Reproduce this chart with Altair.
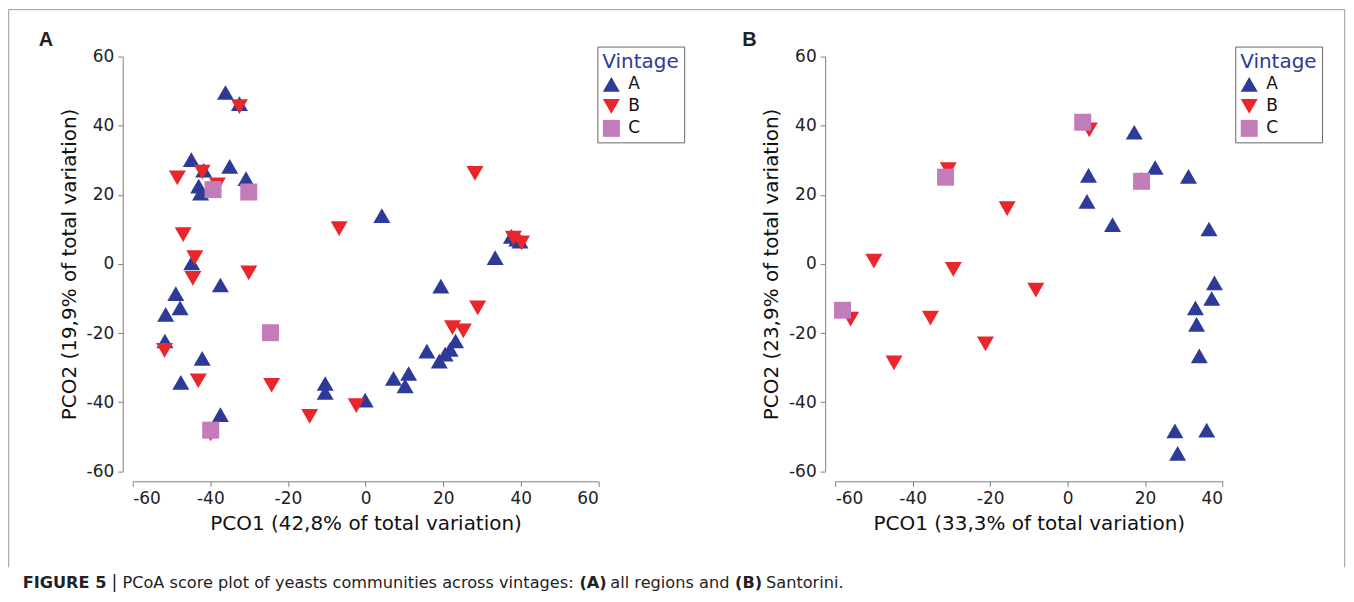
import altair as alt
import pandas as pd

vintages = ["A", "B", "C"]
colors = ["#2e3a97", "#e8262b", "#c27cb9"]
shapes = ["triangle-up", "triangle-down", "square"]
sizes = [290, 290, 170]

# Panel A: all regions
a_A_x = [-36.1, -32.5, -44.9, -41.7, -35.0, -30.8, -43.0, -42.5, -30.1, -44.8, -37.4, -48.9,
         -47.8, -51.5, -51.7, -42.1, -47.6, -37.4, -39.9, 4.2, 37.6, 39.0, 39.8, 33.4, 19.4,
         23.2, 21.8, 15.8, 20.5, 19.0, 11.1, 7.2, 10.2, -10.4, -10.4, -0.1]
a_A_y = [49.6, 46.4, 30.2, 27.1, 28.2, 24.7, 22.5, 20.5, 21.0, 0.3, -6.1, -8.6,
         -12.7, -14.6, -22.3, -27.3, -34.3, -43.6, -47.8, 14.0, 8.0, 7.2, 6.6, 1.8, -6.4,
         -22.3, -24.7, -25.2, -26.1, -28.1, -31.7, -33.1, -35.3, -34.6, -37.2, -39.4]
a_B_x = [-32.5, -48.5, -42.1, -38.2, -47.0, -44.0, -44.5, -30.1, -51.8, -43.1, -24.2, -39.9,
         -6.8, 28.2, 38.1, 40.2, 28.9, 22.4, 25.2, -2.4, -14.4]
a_B_y = [45.5, 24.9, 26.6, 22.9, 8.5, 1.8, -4.2, -2.6, -25.0, -33.8, -35.1, -49.2,
         10.2, 26.2, 7.5, 6.1, -12.7, -18.4, -19.4, -41.0, -44.1]
a_C_x = [-39.3, -30.1, -24.5, -39.9]
a_C_y = [21.5, 20.8, -19.9, -48.1]

# Panel B: Santorini
b_A_x = [17.2, 22.6, 5.4, 31.2, 19.1, 5.0, 11.6, 36.5, 37.9, 37.2, 33.0, 33.3, 34.0, 27.7, 35.9, 28.4]
b_A_y = [38.1, 27.9, 25.6, 25.3, 24.5, 18.1, 11.4, 10.1, -5.5, -10.0, -12.7, -17.5, -26.6, -48.3, -48.1, -54.8]
b_B_x = [-30.8, -15.6, -50.0, -29.5, -56.0, -35.4, -21.2, -44.8, -8.2, 5.6]
b_B_y = [27.3, 16.0, 0.8, -1.6, -16.0, -15.7, -23.1, -28.6, -7.6, 38.8]
b_C_x = [-31.5, -58.1, 3.9, 19.1]
b_C_y = [25.1, -13.4, 41.0, 23.9]

x_ticks_a = [-60, -40, -20, 0, 20, 40, 60]
x_ticks_b = [-60, -40, -20, 0, 20, 40]
y_ticks = [-60, -40, -20, 0, 20, 40, 60]


def frame(xs, ys, names):
    rows = []
    for xv, yv, n in zip(xs, ys, names):
        for a, b in zip(xv, yv):
            rows.append({"x": a, "y": b, "Vintage": n})
    return pd.DataFrame(rows)


df_a = frame([a_A_x, a_B_x, a_C_x], [a_A_y, a_B_y, a_C_y], vintages)
df_b = frame([b_A_x, b_B_x, b_C_x], [b_A_y, b_B_y, b_C_y], vintages)

FONT = "DejaVu Sans"


def axis(values, title):
    return alt.Axis(values=values, title=title, offset=10, grid=False,
                    labelExpr="replace(datum.label, '\u2212', '-')",
                    domainColor="#808080", tickColor="#808080", tickSize=5,
                    labelFont=FONT, labelFontSize=17, labelColor="#222222", labelPadding=4,
                    titleFont=FONT, titleFontSize=20, titleFontWeight="normal",
                    titleColor="#111111", titlePadding=7)


def legend(lx):
    return alt.Legend(title="Vintage", orient="none", legendX=lx, legendY=-10,
                      strokeColor="#666666", fillColor="white", padding=5,
                      titleFont=FONT, titleFontSize=20, titleFontWeight="normal",
                      titleColor="#2e3a97", titlePadding=4,
                      labelFont=FONT, labelFontSize=17, labelColor="#111111",
                      symbolSize=260, symbolStrokeWidth=0, rowPadding=5, labelOffset=8)


def points(df, xdom, xvals, xtitle, ytitle, lx):
    return alt.Chart(df).mark_point(filled=True, opacity=1, strokeWidth=0).encode(
        x=alt.X("x:Q", scale=alt.Scale(domain=xdom, nice=False, zero=False), axis=axis(xvals, xtitle)),
        y=alt.Y("y:Q", scale=alt.Scale(domain=[-60, 60], nice=False, zero=False), axis=axis(y_ticks, ytitle)),
        color=alt.Color("Vintage:N", scale=alt.Scale(domain=vintages, range=colors), legend=legend(lx)),
        shape=alt.Shape("Vintage:N", scale=alt.Scale(domain=vintages, range=shapes), legend=legend(lx)),
        size=alt.Size("Vintage:N", scale=alt.Scale(domain=vintages, range=sizes), legend=None),
    )


one = pd.DataFrame({"k": [0]})


def txt(s, x, y, size=16, weight="normal", align="left", font=FONT):
    return alt.Chart(one).mark_text(text=s, align=align, baseline="middle", font=font,
                                    fontSize=size, fontWeight=weight, color="#222222").encode(
        x=alt.value(x), y=alt.value(y))


def rule(x, y, x2=None, y2=None):
    enc = {"x": alt.value(x), "y": alt.value(y)}
    if x2 is not None:
        enc["x2"] = alt.value(x2)
    if y2 is not None:
        enc["y2"] = alt.value(y2)
    return alt.Chart(one).mark_rule(color="#9a9a9a", strokeWidth=1).encode(**enc)


W_A, W_B, H = 466.7, 388.3, 415.7
L, T = -124.3, -47.0
R, BOT = 1214.7, 512.0

OX = 132.3
cap_y = 528
CS = 16.2
panel_a = alt.layer(
    rule(L, T, x2=R),
    rule(L, T, y2=BOT),
    rule(R, T, y2=BOT),
    points(df_a, [-60, 60], x_ticks_a, "PCO1 (42,8% of total variation)",
           "PCO2 (19,9% of total variation)", 465.7),
    txt("A", -87, -17, size=20, weight="bold", align="center", font="Liberation Sans"),
    txt("FIGURE 5", 22 - OX, cap_y, size=CS, weight="bold"),
    txt("|", 111 - OX, cap_y, size=CS + 1),
    txt("PCoA score plot of yeasts communities across vintages:", 122 - OX, cap_y, size=CS),
    txt("(A)", 580 - OX, cap_y, size=CS, weight="bold"),
    txt("all regions and", 611 - OX, cap_y, size=CS),
    txt("(B)", 736 - OX, cap_y, size=CS, weight="bold"),
    txt("Santorini.", 767 - OX, cap_y, size=CS),
).properties(width=W_A, height=H)

panel_b = alt.layer(
    points(df_b, [-60, 40], x_ticks_b, "PCO1 (33,3% of total variation)",
           "PCO2 (23,9% of total variation)", 401),
    txt("B", -86, -17, size=20, weight="bold", align="center", font="Liberation Sans"),
).properties(width=W_B, height=H)

chart = alt.hconcat(panel_a, panel_b, spacing=237, bounds="flush",
                    padding={"left": 0, "top": 0, "right": 0, "bottom": 0}).resolve_scale(
    color="independent", shape="independent", size="independent"
).resolve_legend(color="independent", shape="independent").configure_view(stroke=None)

chart.save("out.html", embed_options={"renderer": "svg", "actions": False})
